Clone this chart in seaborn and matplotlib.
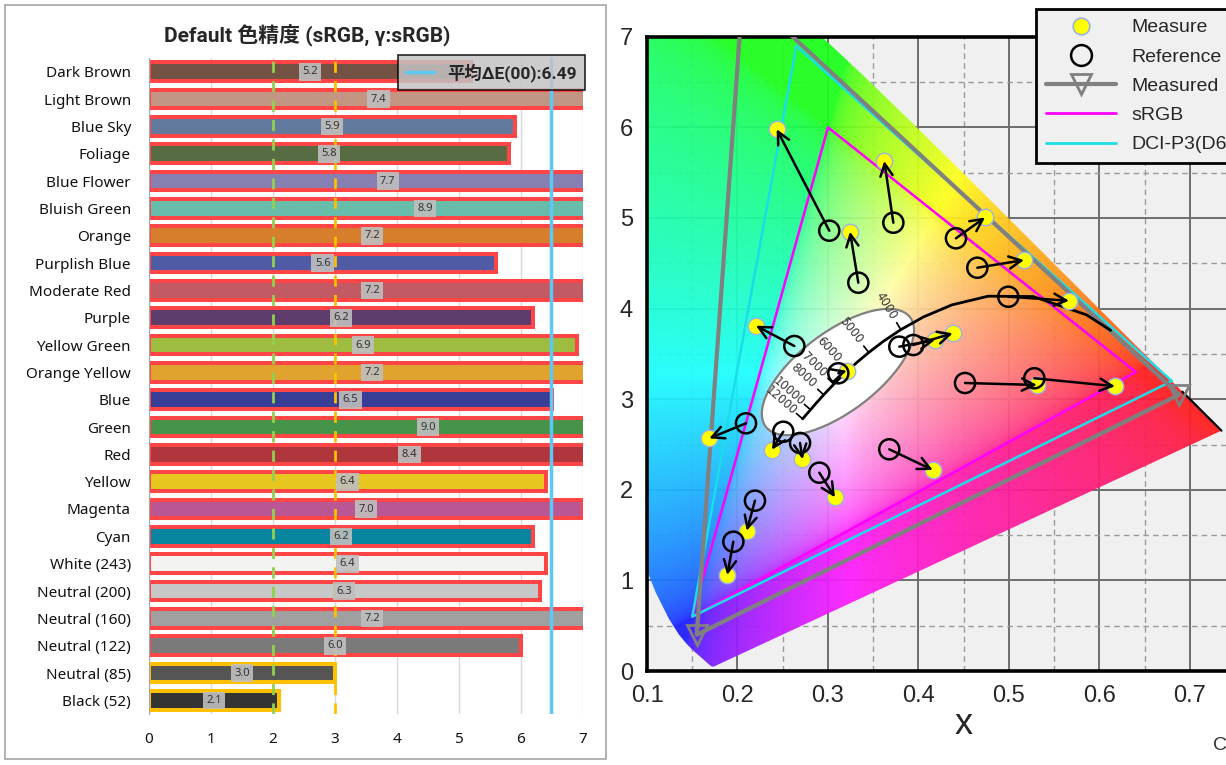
import numpy as np
import pandas as pd
import matplotlib
matplotlib.use("Agg")
import matplotlib.pyplot as plt
import matplotlib.transforms as mtransforms
import seaborn as sns
from matplotlib.patches import Ellipse, Polygon, Rectangle
from matplotlib.lines import Line2D

# ---------------- left chart data ----------------
categories = ["Dark Brown", "Light Brown", "Blue Sky", "Foliage", "Blue Flower",
              "Bluish Green", "Orange", "Purplish Blue", "Moderate Red", "Purple",
              "Yellow Green", "Orange Yellow", "Blue", "Green", "Red", "Yellow",
              "Magenta", "Cyan", "White (243)", "Neutral (200)", "Neutral (160)",
              "Neutral (122)", "Neutral (85)", "Black (52)"]
delta_e = [5.2, 7.4, 5.9, 5.8, 7.7, 8.9, 7.2, 5.6, 7.2, 6.2, 6.9, 7.2,
           6.5, 9.0, 8.4, 6.4, 7.0, 6.2, 6.4, 6.3, 7.2, 6.0, 3.0, 2.1]
patch_colors = ["#735244", "#C29682", "#627A9D", "#576C43", "#8580B1", "#67BDAA",
                "#D67E2C", "#505BA6", "#C15A63", "#5E3C6C", "#9DBC40", "#E0A32E",
                "#383D96", "#469449", "#AF363C", "#E7C71F", "#BB5695", "#0885A1",
                "#F3F3F2", "#C8C8C8", "#A0A0A0", "#7A7A7A", "#555555", "#343434"]
avg_delta_e = 6.49
good_limit = 2.0
ok_limit = 3.0
left_xticks = [0, 1, 2, 3, 4, 5, 6, 7]
title_text = "Default 色精度 (sRGB, γ:sRGB)"
legend_left_text = "平均ΔE(00):6.49"

# ---------------- right chart data ----------------
ref_x = [0.3014, 0.3722, 0.3335, 0.4414, 0.4650, 0.4992, 0.3788, 0.3943, 0.2628, 0.3114,
         0.2094, 0.2506, 0.2691, 0.3677, 0.2904, 0.2193, 0.1954, 0.4514, 0.5280]
ref_y = [0.4860, 0.4948, 0.4286, 0.4776, 0.4451, 0.4131, 0.3580, 0.3598, 0.3587, 0.3286,
         0.2734, 0.2641, 0.2517, 0.2447, 0.2189, 0.1880, 0.1427, 0.3179, 0.3231]
meas_x = [0.2433, 0.3622, 0.3243, 0.4735, 0.5166, 0.5663, 0.4182, 0.4378, 0.2204, 0.3207,
          0.1688, 0.2381, 0.2718, 0.4157, 0.3077, 0.2102, 0.1887, 0.5309, 0.6171]
meas_y = [0.5980, 0.5629, 0.4849, 0.5006, 0.4536, 0.4087, 0.3653, 0.3727, 0.3811, 0.3315,
          0.2568, 0.2442, 0.2337, 0.2219, 0.1917, 0.1548, 0.1060, 0.3157, 0.3143]
srgb_x = [0.640, 0.300, 0.150]
srgb_y = [0.330, 0.600, 0.060]
p3_x = [0.680, 0.265, 0.150]
p3_y = [0.320, 0.690, 0.060]
gamut_x = [0.688, 0.206, 0.155]
gamut_y = [0.305, 0.751, 0.040]
locus_nm = [380, 385, 390, 395, 400, 405, 410, 415, 420, 425, 430, 435, 440, 445, 450,
            455, 460, 465, 470, 475, 480, 485, 490, 495, 500, 505, 510, 515, 520, 525,
            530, 535, 540, 545, 550, 555, 560, 565, 570, 575, 580, 585, 590, 595, 600,
            605, 610, 615, 620, 625, 630, 635, 640, 645, 650, 655, 660, 665, 670, 680,
            690, 700]
locus_x = [0.1741, 0.1740, 0.1738, 0.1736, 0.1733, 0.1730, 0.1726, 0.1721, 0.1714, 0.1703,
           0.1689, 0.1669, 0.1644, 0.1611, 0.1566, 0.1510, 0.1440, 0.1355, 0.1241, 0.1096,
           0.0913, 0.0687, 0.0454, 0.0235, 0.0082, 0.0039, 0.0139, 0.0389, 0.0743, 0.1142,
           0.1547, 0.1929, 0.2296, 0.2658, 0.3016, 0.3373, 0.3731, 0.4087, 0.4441, 0.4788,
           0.5125, 0.5448, 0.5752, 0.6029, 0.6270, 0.6482, 0.6658, 0.6801, 0.6915, 0.7006,
           0.7079, 0.7140, 0.7190, 0.7230, 0.7260, 0.7283, 0.7300, 0.7311, 0.7320, 0.7334,
           0.7344, 0.7347]
locus_y = [0.0050, 0.0050, 0.0049, 0.0049, 0.0048, 0.0048, 0.0048, 0.0048, 0.0051, 0.0058,
           0.0069, 0.0086, 0.0109, 0.0138, 0.0177, 0.0227, 0.0297, 0.0399, 0.0578, 0.0868,
           0.1327, 0.2007, 0.2950, 0.4127, 0.5384, 0.6548, 0.7502, 0.8120, 0.8338, 0.8262,
           0.8059, 0.7816, 0.7543, 0.7243, 0.6923, 0.6589, 0.6245, 0.5896, 0.5547, 0.5202,
           0.4866, 0.4544, 0.4242, 0.3965, 0.3725, 0.3514, 0.3340, 0.3197, 0.3083, 0.2993,
           0.2920, 0.2859, 0.2809, 0.2770, 0.2740, 0.2717, 0.2700, 0.2689, 0.2680, 0.2666,
           0.2656, 0.2653]
planck_k = [1300, 1500, 2000, 2500, 3000, 3500, 4000, 4500, 5000, 5500, 6000, 6500,
            7000, 8000, 9000, 10000, 12000]
planck_x = [0.6123, 0.5857, 0.5267, 0.4770, 0.4369, 0.4053, 0.3805, 0.3608, 0.3451, 0.3325,
            0.3221, 0.3135, 0.3064, 0.2952, 0.2869, 0.2807, 0.2719]
planck_y = [0.3760, 0.3931, 0.4133, 0.4137, 0.4041, 0.3907, 0.3768, 0.3636, 0.3516, 0.3411,
            0.3318, 0.3237, 0.3166, 0.3048, 0.2956, 0.2884, 0.2783]
cct_labels = [4000, 5000, 6000, 7000, 8000, 10000, 12000]
right_xticks = [0.1, 0.2, 0.3, 0.4, 0.5, 0.6, 0.7]
right_xticklabels = ["0.1", "0.2", "0.3", "0.4", "0.5", "0.6", "0.7"]
right_yticks = [0.0, 0.1, 0.2, 0.3, 0.4, 0.5, 0.6, 0.7]
right_yticklabels = ["0", "1", "2", "3", "4", "5", "6", "7"]
legend_right_labels = ["Measure", "Reference", "Measured", "sRGB", "DCI-P3(D65)"]

# ---------------- figure ----------------
sns.set_style("white")
plt.rcParams["font.family"] = ["Noto Sans", "Noto Sans CJK JP", "DejaVu Sans"]
W, H = 1226, 765
fig = plt.figure(figsize=(W / 100, H / 100), dpi=100)

fig.patches.append(Rectangle((5 / W, 1 - 759 / H), 601 / W, 754 / H, transform=fig.transFigure,
                             facecolor="none", edgecolor="#A6A6A6", lw=1.2))

# ---------------- left: bar chart ----------------
axl = fig.add_axes([149 / W, 1 - 714 / H, 434 / W, 656 / H])
df = pd.DataFrame({"patch": categories, "dE": delta_e})
sns.barplot(data=df, x="dE", y="patch", hue="patch", palette=dict(zip(categories, patch_colors)),
            orient="h", width=0.68, saturation=1, legend=False, ax=axl, zorder=2)
for bar in axl.patches:
    idx = int(round(bar.get_y() + bar.get_height() / 2))
    bar.set_edgecolor("#FF4545" if delta_e[idx] > ok_limit else "#FFC000")
    bar.set_linewidth(2.9)
axl.set_xlim(0, 7)
axl.set_ylim(len(categories) - 0.5, -0.5)
axl.set_xticks(left_xticks)
axl.set_xticklabels([])
blend = mtransforms.blended_transform_factory(axl.transData, axl.transAxes)
for t in left_xticks:
    axl.text(t, -0.0396, str(t), transform=blend, ha="center", va="center", fontsize=11,
             color="#111111", clip_on=False)
axl.grid(axis="x", color="#D9D9D9", lw=1)
axl.grid(axis="y", visible=False)
axl.set_axisbelow(True)
for s in ["top", "right", "bottom"]:
    axl.spines[s].set_visible(False)
axl.spines["left"].set_color("#A6A6A6")
axl.set_yticks(np.arange(-0.5, len(categories)), minor=True)
axl.tick_params(axis="y", which="minor", length=5, color="#A6A6A6", width=1)
axl.tick_params(axis="y", which="major", length=0, pad=13, labelsize=11, labelcolor="#111111")
axl.tick_params(axis="x", length=0)
axl.set_xlabel("")
axl.set_ylabel("")
for i, v in enumerate(delta_e):
    axl.text(v / 2, i, f"{v:.1f}", ha="center", va="center", fontsize=8, color="#333333",
             zorder=5, bbox=dict(boxstyle="square,pad=0.3", fc="#BFBFBF", ec="none", alpha=0.9))
axl.axvline(good_limit, color="#92D050", lw=2, ls=(0, (4, 3)), zorder=4)
axl.axvline(ok_limit, color="#FFC000", lw=2, ls=(0, (4, 3)), zorder=4)
axl.axvline(avg_delta_e, color="#5BC8F5", lw=2.5, zorder=4)
leg = axl.legend([Line2D([], [], color="#5BC8F5", lw=2.5)], [legend_left_text],
                 loc="upper right", bbox_to_anchor=(585 / W, 1 - 55 / H), bbox_transform=fig.transFigure,
                 frameon=True, fancybox=False, framealpha=0.85, facecolor="#C4C4C4", edgecolor="black",
                 handlelength=1.6, borderpad=0.45, borderaxespad=0,
                 prop=dict(family=["Roboto", "Noto Sans CJK JP"], weight="bold", size=12.5))
leg.get_frame().set_linewidth(1.2)
leg.set_zorder(10)
fig.text(307 / W, 1 - 36 / H, title_text, ha="center", va="center", fontsize=15, weight="bold",
         family=["Roboto", "Noto Sans CJK JP", "DejaVu Sans"])

# ---------------- right: chromaticity diagram ----------------
arial = "Liberation Sans"
axr = fig.add_axes([647 / W, 1 - 671 / H, 0.7 * 905 / W, 0.7 * 906 / H])
axr.set_facecolor("#F0F0F0")
axr.set_xlim(0.1, 0.8)
axr.set_ylim(0.0, 0.7)

gx = np.linspace(0.1, 0.8, 700)
gy = np.linspace(0.0005, 0.7, 700)
XX, YY = np.meshgrid(gx, gy)
xyz = np.stack([XX / YY, np.ones_like(XX), (1 - XX - YY) / YY], axis=-1)
M = np.array([[3.2406, -1.5372, -0.4986], [-0.9689, 1.8758, 0.0415], [0.0557, -0.2040, 1.0570]])
rgb = np.clip(xyz @ M.T, 0, None)
rgb = rgb / (rgb.max(axis=-1, keepdims=True) + 1e-9)
rgb = np.where(rgb <= 0.0031308, 12.92 * rgb, 1.055 * np.power(rgb, 1 / 2.4) - 0.055)
rgb = np.clip(0.88 * rgb + 0.12, 0, 1)
im = axr.imshow(rgb, origin="lower", extent=(0.1, 0.8, 0.0005, 0.7), aspect="auto",
                interpolation="bilinear", zorder=1, alpha=0.94)
locus_poly = Polygon(np.column_stack([locus_x, locus_y]), closed=True, facecolor="none",
                     edgecolor="none", transform=axr.transData)
axr.add_patch(locus_poly)
im.set_clip_path(locus_poly)

axr.set_xticks(right_xticks)
axr.set_xticklabels(right_xticklabels)
axr.set_yticks(right_yticks)
axr.set_yticklabels(right_yticklabels)
axr.set_xticks(np.arange(0.15, 0.8, 0.1), minor=True)
axr.set_yticks(np.arange(0.05, 0.7, 0.1), minor=True)
axr.grid(which="major", color="#6E6E6E", lw=1.4, ls="-")
axr.grid(which="minor", color="#9A9A9A", lw=1.0, ls=(0, (4, 3)))
axr.axvline(0.8, color="#6E6E6E", lw=1.4, zorder=0.5)
axr.set_axisbelow(True)
axr.tick_params(which="minor", length=0)
axr.tick_params(which="major", direction="out", length=5, width=1.5, color="#333333",
                labelsize=17, pad=5)
for lab in axr.get_xticklabels() + axr.get_yticklabels():
    lab.set_family(arial)
for s in ["left", "bottom", "top"]:
    axr.spines[s].set_color("black")
    axr.spines[s].set_linewidth(2.6)
axr.spines["right"].set_visible(False)
axr.set_xlabel("x", fontsize=26, family=arial, labelpad=0)
axr.set_ylabel("")

lnm = np.array(locus_nm)
sel = lnm >= 620
axr.plot(np.array(locus_x)[sel], np.array(locus_y)[sel], color="black", lw=1.6, zorder=2)

axr.plot(srgb_x + srgb_x[:1], srgb_y + srgb_y[:1], color="#FF00FF", lw=1.8, zorder=3)
axr.plot(p3_x + p3_x[:1], p3_y + p3_y[:1], color="#1ADDE6", lw=1.8, zorder=3)
axr.plot(gamut_x + gamut_x[:1], gamut_y + gamut_y[:1], color="#808080", lw=3, zorder=3.2)
axr.plot(gamut_x, gamut_y, ls="none", marker="v", ms=14, mfc="none", mec="#808080", mew=2, zorder=3.2)

ell = Ellipse((0.311, 0.330), width=0.200, height=0.088, angle=37, facecolor="white",
              edgecolor="#808080", lw=1.6, zorder=4)
axr.add_patch(ell)
axr.plot(planck_x, planck_y, color="black", lw=2, zorder=5)
px = np.array(planck_x)
py = np.array(planck_y)
for k in cct_labels:
    i = planck_k.index(k)
    j0, j1 = max(i - 1, 0), min(i + 1, len(planck_k) - 1)
    tx, ty = px[j0] - px[j1], py[j0] - py[j1]
    n = np.hypot(tx, ty)
    nx, ny = -ty / n, tx / n
    if ny < 0:
        nx, ny = -nx, -ny
    axr.plot([px[i], px[i] + nx * 0.009], [py[i], py[i] + ny * 0.009], color="black", lw=1.2, zorder=5)
    ang = np.degrees(np.arctan2(-ny, -nx))
    t = axr.text(px[i] + nx * 0.031, py[i] + ny * 0.031, str(k), rotation=ang, rotation_mode="anchor",
                 ha="center", va="center", fontsize=8.5, color="#333333", zorder=5, family="DejaVu Sans")
    if k == cct_labels[-1]:
        t.set_clip_path(ell)

sns.scatterplot(x=meas_x, y=meas_y, ax=axr, s=140, color="#FFFF00", edgecolor="#9DB2E0",
                linewidth=1.0, zorder=6, legend=False)
sns.scatterplot(x=ref_x, y=ref_y, ax=axr, s=210, facecolor="none", edgecolor="black",
                linewidth=1.8, zorder=7, legend=False)
for rx, ry, mx, my in zip(ref_x, ref_y, meas_x, meas_y):
    axr.annotate("", xy=(mx, my), xytext=(rx, ry),
                 arrowprops=dict(arrowstyle="->", color="black", lw=1.8, mutation_scale=22,
                                 shrinkA=0, shrinkB=0), zorder=8)

handles = [
    Line2D([], [], ls="none", marker="o", ms=12, mfc="#FFFF00", mec="#9DB2E0", mew=1.2),
    Line2D([], [], ls="none", marker="o", ms=15, mfc="none", mec="black", mew=1.8),
    Line2D([], [], color="#808080", lw=3, marker="v", ms=14, mfc="none", mec="#808080", mew=2),
    Line2D([], [], color="#FF00FF", lw=2),
    Line2D([], [], color="#1ADDE6", lw=2),
]
legr = fig.legend(handles, legend_right_labels, loc="upper left", bbox_to_anchor=(1036 / W, 1 - 9 / H),
                  frameon=True, fancybox=False, framealpha=1, facecolor="#F0F0F0", edgecolor="black",
                  handlelength=3.6, handletextpad=0.8, labelspacing=0.6, borderpad=0.5,
                  prop=dict(family=arial, size=14), borderaxespad=0, numpoints=1)
legr.get_frame().set_linewidth(2)

fig.text(1213 / W, 1 - 746 / H, "C", fontsize=14, family=arial, ha="left", va="center", color="#333333")

fig.savefig("out.png", dpi=100)
